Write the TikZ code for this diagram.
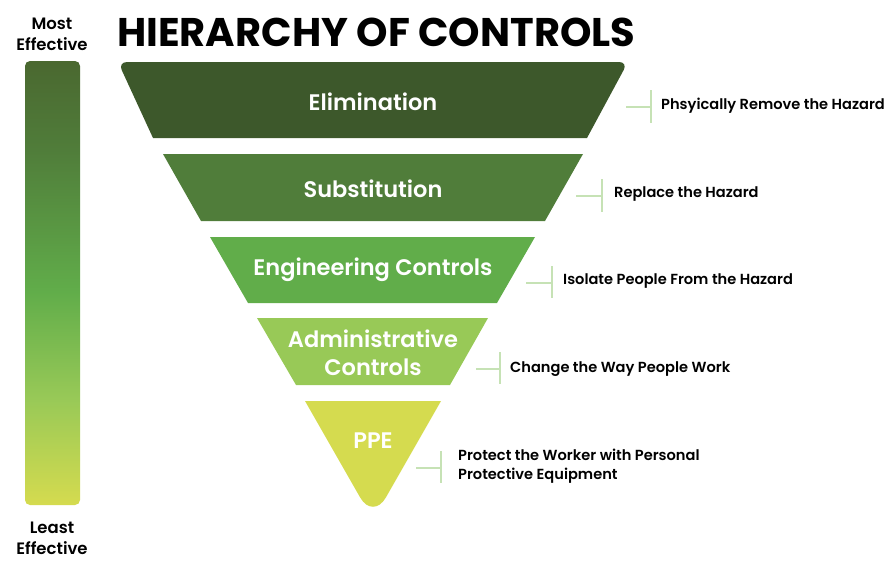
\documentclass[tikz,border=0pt]{standalone}
\usepackage{fontspec}
\setmainfont{Poppins}
\newfontfamily\medfont{Poppins SemiBold}
\usepackage{tikz}
\usetikzlibrary{positioning,calc}
\definecolor{elimColor}{HTML}{3D582B}
\definecolor{subColor}{HTML}{507D3A}
\definecolor{engColor}{HTML}{61AD4A}
\definecolor{admColor}{HTML}{98C957}
\definecolor{ppeColor}{HTML}{D5DB4F}
\definecolor{barTop}{HTML}{4A6830}
\definecolor{linkColor}{HTML}{C6E2B5}
\pgfdeclareverticalshading{effbar}{100bp}{color(0bp)=(ppeColor); color(25bp)=(ppeColor);
  color(37bp)=(admColor); color(49bp)=(engColor); color(65bp)=(subColor);
  color(75bp)=(barTop); color(100bp)=(barTop)}
\tikzset{
  tierlbl/.style={text=white, font=\medfont\fontsize{22.5}{28}\selectfont, align=center, inner sep=0pt},
  notelbl/.style={anchor=west, font=\medfont\fontsize{14.6}{19}\selectfont, align=left, inner sep=0pt},
  sidelbl/.style={font=\medfont\fontsize{16.5}{21.5}\selectfont, align=center, inner sep=0pt},
  linkln/.style={line width=1.2pt, linkColor},
}

\begin{document}
\begin{tikzpicture}[x=1pt,y=-1pt]
    \useasboundingbox (0,0) rectangle (892,570);
    % effectiveness bar
    \shade[rounded corners=5pt, shading=effbar] (25,61) rectangle (80,505);
    \node[sidelbl] (most) at (52,34.5) {Most\\Effective};
    \node[sidelbl] (least) at (52,538.5) {Least\\Effective};
    % title
    \node[anchor=west, font=\bfseries\fontsize{40}{46}\selectfont, inner sep=0pt] (title) at (117,32) {HIERARCHY OF CONTROLS};
    % the five tiers of the funnel
    \fill[elimColor] (153,138) [rounded corners=9pt] -- (118,62) -- (628,62) [sharp corners] -- (587,138) -- cycle;
    \fill[subColor] (163,154) -- (583,154) -- (545,221) -- (201,221) -- cycle;
    \fill[engColor] (210,237) -- (535,237) -- (497,303) -- (248,303) -- cycle;
    \fill[admColor] (257,318) -- (488,318) -- (450,385) -- (296,385) -- cycle;
    \fill[ppeColor] (305,401) -- (441,401) [rounded corners=26pt] -- (373,520) [sharp corners] -- cycle;
    \node[tierlbl] (elim) at (373,102) {Elimination};
    \node[tierlbl] (subst) at (373,189) {Substitution};
    \node[tierlbl] (eng) at (373,270) {Engineering Controls};
    \node[tierlbl] (adm) at (373,353) {Administrative\\Controls};
    \node[tierlbl] (ppe) at (373,441) {PPE};
    % notes on the right
    \node[notelbl] (elimnote) at (661,106) {Phsyically Remove the Hazard};
    \node[notelbl] (substnote) at (614,194) {Replace the Hazard};
    \node[notelbl] (engnote) at (563,281) {Isolate People From the Hazard};
    \node[notelbl] (admnote) at (510,369) {Change the Way People Work};
    \node[notelbl] (ppenote) at (458,466) {Protect the Worker with Personal\\Protective Equipment};
    % connectors: a short stub and a tick before each note
    \coordinate (elimA) at (626,107);  \coordinate (elimB) at (651,107);
    \coordinate (substA) at (576,196); \coordinate (substB) at (602,196);
    \coordinate (engA) at (526,283);   \coordinate (engB) at (552,283);
    \coordinate (admA) at (476,369);   \coordinate (admB) at (500,369);
    \coordinate (ppeA) at (416,468);   \coordinate (ppeB) at (441,468);
    \draw[linkln] (elimA) -- (elimB);  \draw[linkln] ($(elimB)+(0,-17)$) -- ($(elimB)+(0,16)$);
    \draw[linkln] (substA) -- (substB); \draw[linkln] ($(substB)+(0,-17)$) -- ($(substB)+(0,16)$);
    \draw[linkln] (engA) -- (engB);    \draw[linkln] ($(engB)+(0,-17)$) -- ($(engB)+(0,15)$);
    \draw[linkln] (admA) -- (admB);    \draw[linkln] ($(admB)+(0,-17)$) -- ($(admB)+(0,15)$);
    \draw[linkln] (ppeA) -- (ppeB);    \draw[linkln] ($(ppeB)+(0,-17)$) -- ($(ppeB)+(0,15)$);
  \end{tikzpicture}
\end{document}
